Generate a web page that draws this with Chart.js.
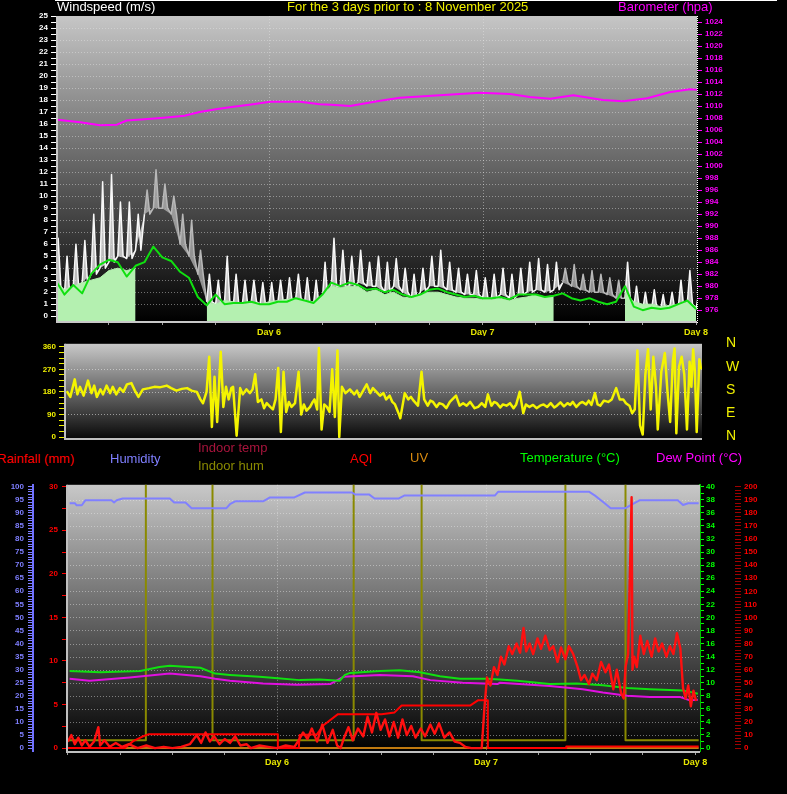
<!DOCTYPE html>
<html lang="en">
<head>
<meta charset="utf-8">
<title>Weather - last 3 days</title>
<script src="https://cdn.jsdelivr.net/npm/chart.js"></script>
<style>
  body { margin: 0; background: #000; }
  #page { position: relative; width: 787px; height: 794px; overflow: hidden; background: #000;
          font-family: "Liberation Sans", Arial, sans-serif; }
  canvas { position: absolute; left: 0; }
  .lbl { position: absolute; white-space: nowrap; font-size: 13px; line-height: 15px; }
  .dir { position: absolute; left: 726px; color: #f0f000; font-size: 14px; line-height: 14px; }
</style>
</head>
<body>
<div id="page">
  <canvas id="windChart" width="787" height="336" style="top:0"></canvas>
  <canvas id="dirChart" width="787" height="110" style="top:336px"></canvas>
  <canvas id="mainChart" width="787" height="318" style="top:476px"></canvas>

  <div style="position:absolute;left:55px;top:0;width:722px;height:1px;background:#fff"></div>
  <div class="lbl" style="left:57px;top:-1px;color:#fff">Windspeed (m/s)</div>
  <div class="lbl" style="left:287px;top:-1px;color:#f0f000">For the 3 days prior to : 8 November 2025</div>
  <div class="lbl" style="left:618px;top:-1px;color:#ff00ff">Barometer (hpa)</div>

  <div class="dir" style="top:335px">N</div>
  <div class="dir" style="top:359px">W</div>
  <div class="dir" style="top:382px">S</div>
  <div class="dir" style="top:405px">E</div>
  <div class="dir" style="top:428px">N</div>

  <div class="lbl" style="left:-3px;top:451px;color:#ff0000">Rainfall (mm)</div>
  <div class="lbl" style="left:110px;top:451px;color:#7f7fff">Humidity</div>
  <div class="lbl" style="left:198px;top:440px;color:#a8143c">Indoor temp</div>
  <div class="lbl" style="left:198px;top:458px;color:#8a8a00">Indoor hum</div>
  <div class="lbl" style="left:350px;top:451px;color:#ff0000">AQI</div>
  <div class="lbl" style="left:410px;top:450px;color:#d88a10">UV</div>
  <div class="lbl" style="left:520px;top:450px;color:#00ff00">Temperature (°C)</div>
  <div class="lbl" style="left:656px;top:450px;color:#ff00ff">Dew Point (°C)</div>
</div>

<script>
// ---------- data: hours after midnight at the start of Day 5 ----------
const dayHours = [24, 48, 72];
const dayLabels = ['Day 6', 'Day 7', 'Day 8'];

// wind, one reading per hour (gust peak / trough, speed, average)
const windHours = Array.from({ length: 73 }, (_, i) => i);
const gustHigh = [
  6.5, 5.0, 6.0, 6.3, 8.5, 11.2, 11.8, 9.5, 9.5, 8.5,
  10.5, 12.2, 11.0, 10.0, 8.5, 8.0, 5.5, 3.5, 3.0, 5.0,
  3.5, 3.0, 3.0, 2.8, 2.8, 3.0, 3.2, 3.5, 3.2, 3.0,
  4.5, 6.5, 5.5, 5.0, 5.5, 4.5, 5.0, 4.5, 4.8, 4.0,
  3.5, 4.0, 5.0, 5.5, 4.5, 4.0, 3.5, 3.8, 3.2, 3.5,
  4.0, 3.5, 4.0, 4.5, 4.8, 4.3, 4.5, 4.0, 4.3, 3.5,
  3.8, 3.5, 3.2, 3.0, 4.5, 2.5, 2.0, 2.2, 1.8, 2.0,
  3.0, 3.8, 2.0];
const gustLow = [
  2.5, 1.8, 2.5, 2.8, 3.5, 4.0, 4.5, 5.0, 4.8, 5.5,
  8.5, 9.0, 9.0, 8.5, 6.0, 5.0, 3.5, 1.2, 1.0, 1.2,
  1.0, 1.0, 1.2, 1.0, 1.0, 1.2, 1.2, 1.5, 1.2, 1.0,
  1.5, 2.5, 2.5, 2.5, 2.8, 2.5, 2.5, 2.0, 2.5, 2.0,
  1.5, 2.0, 2.5, 2.5, 2.2, 2.0, 1.8, 1.8, 1.5, 1.5,
  1.8, 1.5, 1.8, 2.0, 2.2, 2.0, 2.2, 2.8, 2.5, 2.2,
  2.0, 2.0, 1.8, 1.5, 1.5, 0.8, 0.5, 0.6, 0.5, 0.6,
  0.8, 1.0, 0.6];
const windSpeed = [
  3.0, 2.2, 2.5, 2.8, 3.0, 3.2, 3.8, 4.0, 3.8, 4.0,
  null, null, null, null, null, null, null, 1.2, 1.0, 1.3,
  1.2, 1.0, 1.2, 1.0, 1.2, 1.3, 1.4, 1.5, 1.3, 1.2,
  1.8, 2.5, 2.4, 2.5, 2.5, 2.0, 2.2, 1.8, 2.0, 1.6,
  1.5, 1.8, 2.0, 2.0, 1.8, 1.6, 1.5, 1.5, 1.4, 1.4,
  1.5, 1.3, 1.5, 1.6, 1.8, 1.6, 1.7, null, null, null,
  null, null, null, null, 2.0, 1.2, 1.0, 1.0, 0.8, 0.9,
  1.0, 1.2, 0.8];
const windAvg = [
  3.0, 1.8, 2.6, 1.9, 3.5, 4.3, 4.7, 4.5, 3.3, 4.2,
  4.5, 5.8, 4.9, 4.6, 3.7, 3.2, 1.6, 0.9, 1.8, 1.0,
  1.1, 1.1, 1.2, 1.0, 1.0, 1.2, 1.2, 1.5, 1.3, 1.1,
  1.8, 2.8, 2.5, 2.8, 2.6, 2.2, 2.3, 2.0, 2.2, 1.8,
  1.6, 1.8, 2.2, 2.3, 2.0, 1.8, 1.6, 1.7, 1.5, 1.5,
  1.6, 1.4, 1.8, 1.8, 1.8, 1.6, 1.7, 1.9, 1.5, 1.3,
  1.5, 1.2, 1.0, 1.2, 2.5, 0.8, 0.5, 0.7, 0.6, 0.7,
  1.0, 1.3, 0.6];

const baroHours = [0.2, 2.8, 5.0, 6.9, 8.0, 10.0, 12.5, 14.5, 16.2, 18.2,
  20.0, 22.2, 24.1, 27.5, 29.7, 31.0, 33.1, 36.5, 38.7, 43.2,
  47.7, 51.1, 53.3, 55.6, 58.2, 61.5, 63.8, 66.5, 69.0, 71.3, 72.1];
const baroVals = [1007.7, 1007.3, 1006.8, 1006.9, 1007.6, 1007.8, 1008.1, 1008.4, 1009.0, 1009.5,
  1009.9, 1010.3, 1010.7, 1010.7, 1010.3, 1010.2, 1010.0, 1010.9, 1011.4, 1011.8,
  1012.2, 1012.0, 1011.5, 1011.2, 1011.8, 1011.0, 1010.8, 1011.3, 1012.3, 1012.8, 1012.7];

// wind direction
const dirHours = [
  0.2, 0.6, 1.1, 1.4, 1.7, 2.1, 2.6, 3.0, 3.3, 3.6,
  4.0, 4.3, 4.7, 5.1, 5.4, 5.8, 6.2, 6.6, 7.0, 7.5,
  7.9, 8.3, 8.8, 9.5, 10.1, 10.7, 11.5, 12.0, 12.6, 13.2,
  13.8, 14.3, 14.9, 15.3, 15.6, 16.0, 16.3, 16.6, 16.9, 17.2,
  17.6, 17.9, 18.2, 18.5, 18.8, 19.0, 19.4, 19.8, 20.1, 20.5,
  20.9, 21.2, 21.5, 21.8, 22.2, 22.5, 22.8, 23.2, 23.5, 23.8,
  24.1, 24.4, 24.7, 25.0, 25.3, 25.6, 26.0, 26.4, 26.7, 27.0,
  27.3, 27.7, 28.0, 28.2, 28.5, 28.7, 29.0, 29.3, 29.6, 29.9,
  30.2, 30.5, 30.8, 31.0, 31.3, 31.7, 32.2, 32.7, 33.0, 33.3,
  33.7, 34.1, 34.5, 34.8, 35.2, 35.6, 36.0, 36.3, 36.7, 37.0,
  37.3, 37.7, 37.9, 38.4, 38.8, 39.1, 39.4, 39.9, 40.3, 40.6,
  41.0, 41.3, 41.6, 42.0, 42.3, 42.7, 43.1, 43.5, 44.2, 44.6,
  45.0, 45.4, 45.8, 46.3, 46.7, 47.1, 47.5, 47.8, 48.2, 48.5,
  48.8, 49.2, 49.5, 49.9, 50.3, 50.7, 51.0, 51.4, 51.8, 52.1,
  52.5, 52.9, 53.3, 53.7, 54.1, 54.5, 54.9, 55.3, 55.6, 56.0,
  56.4, 56.8, 57.1, 57.4, 57.8, 58.2, 58.5, 58.9, 59.2, 59.5,
  59.9, 60.2, 60.5, 60.9, 61.4, 61.8, 62.3, 62.7, 63.1, 63.4,
  63.8, 64.1, 64.4, 64.7, 65.0, 65.3, 65.6, 65.9, 66.2, 66.5,
  66.8, 67.0, 67.4, 67.8, 68.1, 68.4, 68.7, 68.9, 69.1, 69.4,
  69.7, 70.0, 70.3, 70.6, 70.8, 71.0, 71.2, 71.4, 71.7, 71.9];
const dirDeg = [
  183, 160, 230, 170, 200, 165, 225, 175, 205, 160,
  190, 170, 205, 175, 200, 170, 195, 180, 210, 215,
  185, 160, 190, 195, 200, 198, 205, 195, 185, 192,
  195, 185, 180, 150, 135, 180, 320, 40, 240, 60,
  340, 120, 200, 150, 195, 200, 5, 195, 170, 190,
  175, 190, 250, 140, 150, 115, 135, 120, 110, 150,
  275, 20, 260, 100, 140, 120, 135, 260, 90, 130,
  105, 120, 140, 150, 110, 355, 30, 130, 120, 100,
  270, 80, 345, 0, 200, 175, 190, 170, 185, 160,
  185, 210, 175, 195, 180, 165, 175, 150, 165, 140,
  130, 95, 75, 175, 150, 160, 145, 125, 260, 150,
  125, 145, 140, 120, 135, 130, 115, 140, 165, 125,
  135, 125, 140, 115, 120, 135, 120, 170, 125, 140,
  135, 118, 130, 125, 135, 115, 130, 180, 95, 130,
  120, 128, 115, 125, 130, 120, 135, 118, 125, 138,
  122, 135, 128, 140, 120, 135, 140, 130, 145, 128,
  175, 130, 125, 145, 140, 150, 195, 150, 150, 135,
  125, 95, 110, 345, 45, 10, 250, 350, 110, 320,
  200, 30, 260, 335, 180, 60, 300, 353, 15, 280,
  320, 250, 30, 300, 200, 350, 260, 20, 310, 270];

// lower panel
const humHours = [0.2, 0.8, 1.0, 1.6, 2.0, 5.0, 5.3, 5.6, 6.3, 11.7,
  12.2, 13.5, 14.2, 18.2, 18.6, 19.2, 22.4, 23.2, 26.0, 27.2,
  32.6, 33.0, 34.6, 35.2, 38.0, 38.6, 49.0, 49.4, 59.8, 60.5,
  61.5, 62.3, 64.0, 64.6, 65.6, 70.0, 70.6, 71.2, 72.4];
const humVals = [93.7, 93.7, 92.9, 92.9, 94.8, 94.8, 94.0, 94.8, 95.5, 95.5,
  94.0, 94.0, 91.8, 91.8, 93.3, 94.4, 94.4, 95.9, 95.9, 97.8,
  97.8, 97.0, 97.0, 95.5, 95.5, 96.6, 96.6, 98.1, 98.1, 96.6,
  94.0, 91.8, 91.8, 93.0, 94.8, 94.8, 93.0, 93.7, 93.7];

const tempHours = [0.2, 3.7, 8.3, 10.5, 11.7, 15.2, 16.9, 18.6, 22.0, 24.1,
  26.6, 28.9, 31.2, 31.8, 32.4, 35.8, 38.1, 40.4, 42.7, 45.0,
  48.1, 49.6, 51.6, 55.3, 58.4, 61.4, 64.2, 66.8, 70.6, 71.4, 72.3];
const tempVals = [11.8, 11.6, 11.8, 12.4, 12.6, 12.3, 11.4, 11.2, 10.9, 10.7,
  10.4, 10.5, 10.3, 11.2, 11.5, 11.8, 11.9, 11.6, 11.0, 10.6,
  10.6, 10.5, 10.3, 9.8, 9.9, 9.6, 9.2, 9.0, 8.8, 8.6, 8.3];

const dewHours = [0.2, 2.5, 7.1, 11.7, 15.2, 16.9, 18.6, 22.4, 26.3, 30.1,
  31.6, 35.8, 39.6, 41.6, 45.3, 49.3, 49.6, 55.3, 59.1, 61.4,
  64.2, 66.8, 70.3, 71.4, 72.3];
const dewVals = [10.6, 10.3, 10.8, 11.4, 11.0, 10.6, 10.3, 9.9, 9.7, 9.8,
  10.9, 11.2, 11.0, 10.4, 10.0, 9.8, 10.0, 9.5, 9.0, 8.5,
  8.0, 7.8, 7.8, 7.3, 7.4];

const rainHours = [0, 6.5, 7.5, 8.5, 9.3, 24.1, 24.1, 26.5, 26.6, 28.6,
  29.3, 31.0, 36.0, 37.5, 38.3, 46.2, 47.1, 48.2, 48.2, 57.2, 57.2, 72.4];
const rainVals = [0, 0, 0.8, 1.3, 1.6, 1.6, 0, 0, 1.5, 1.6,
  2.6, 3.9, 3.9, 4.1, 4.9, 4.9, 5.5, 5.5, 0, 0, 0.2, 0.2];

const inHumHours = [0.1, 8.95, 8.95, 16.6, 16.6, 32.8, 32.8, 40.6, 40.6, 57.1, 57.1, 64.0, 64.0, 72.4];
const inHumVals = [3, 3, 150, 150, 3, 3, 150, 150, 3, 3, 150, 150, 3, 3];

const uvHours = [0, 72.4];
const uvVals = [0, 0];

const aqiHours = [
  0.0, 0.4, 0.8, 1.2, 1.6, 2.0, 2.5, 3.0, 3.5, 3.7,
  4.2, 4.8, 5.5, 6.2, 7.0, 8.0, 9.0, 10.0, 11.0, 12.0,
  13.0, 14.0, 14.8, 15.3, 15.8, 16.3, 16.8, 17.4, 18.0, 18.6,
  19.2, 19.8, 20.5, 21.0, 22.0, 23.0, 24.0, 25.0, 26.0, 26.5,
  27.0, 27.5, 28.0, 28.6, 29.2, 29.8, 30.4, 30.9, 31.3, 31.7,
  32.2, 32.7, 33.3, 33.9, 34.4, 34.9, 35.4, 35.9, 36.4, 36.9,
  37.4, 37.9, 38.4, 38.9, 39.4, 39.9, 40.5, 41.0, 41.6, 42.1,
  42.6, 43.2, 43.8, 44.4, 45.0, 45.6, 46.3, 47.0, 47.5, 47.8,
  48.1, 48.5, 48.9, 49.3, 49.7, 50.1, 50.6, 51.0, 51.5, 51.9,
  52.3, 52.6, 53.0, 53.4, 53.9, 54.3, 54.8, 55.3, 55.7, 56.2,
  56.6, 57.1, 57.5, 58.0, 58.5, 58.9, 59.3, 59.8, 60.2, 60.7,
  61.2, 61.7, 62.1, 62.6, 63.0, 63.5, 63.8, 64.0, 64.3, 64.7,
  64.8, 65.0, 65.3, 65.7, 66.1, 66.5, 67.0, 67.4, 67.8, 68.2,
  68.7, 69.1, 69.5, 69.9, 70.3, 70.6, 70.9, 71.2, 71.5, 71.8,
  72.1];
const aqiVals = [
  5, 10, 3, 8, 2, 6, 1, 5, 16, 2,
  6, 1, 4, 1, 3, 0, 2, 0, 1, 0,
  1, 3, 10, 4, 12, 5, 9, 3, 7, 4,
  9, 2, 3, 0, 2, 1, 0, 2, 1, 6,
  12, 7, 15, 5, 18, 4, 14, 2, 0, 8,
  16, 6, 15, 9, 24, 12, 27, 14, 22, 9,
  20, 8, 22, 10, 17, 8, 15, 9, 18, 11,
  19, 8, 12, 5, 4, 1, 0, 0, 0, 30,
  54, 48, 62, 56, 70, 64, 78, 72, 80, 73,
  92, 74, 80, 72, 84, 76, 86, 75, 78, 66,
  77, 68, 78, 72, 62, 52, 56, 49, 57, 52,
  66, 58, 64, 45, 60, 42, 38, 62, 72, 192,
  60, 70, 62, 86, 72, 82, 70, 84, 74, 80,
  70, 78, 72, 88, 76, 46, 38, 48, 32, 44,
  36];

// ---------- helpers ----------
const pts = (xs, ys) => xs.map((x, i) => ({ x, y: ys[i] }));
// each hourly gust reading drawn as a narrow spike: trough, peak, trough
const gustSpikes = windHours.flatMap((h, i) => [
  { x: h, y: gustLow[i] }, { x: h + 0.3, y: gustHigh[i] }, { x: h + 0.6, y: gustLow[i] }]);
const noSpeed = c => windSpeed[Math.floor(c.p0DataIndex / 3)] === null;

const every = (from, to, step) => {
  const t = [];
  for (let i = 0; from + i * step <= to + 1e-9; i++) t.push({ value: from + i * step });
  return t;
};
const multipleOf = (v, n) => Math.abs(v / n - Math.round(v / n)) < 1e-6;
const tickFont = { family: 'Liberation Sans', size: 8, weight: 'bold' };

// plot background: grey-to-black shading, dotted grid, light frame
const panelBg = {
  id: 'panelBg',
  beforeDatasetsDraw(chart, args, o) {
    const { ctx, chartArea: a, scales } = chart;
    ctx.save();
    const g = ctx.createLinearGradient(0, a.top, 0, a.bottom);
    g.addColorStop(0, o.top);
    g.addColorStop(1, o.bottom);
    ctx.fillStyle = g;
    ctx.fillRect(a.left, a.top, a.right - a.left, a.bottom - a.top);
    ctx.lineWidth = 1;
    ctx.setLineDash([1, 2]);
    ctx.strokeStyle = o.grid;
    const ys = scales[o.yAxis];
    o.rows.forEach(v => {
      const y = Math.round(ys.getPixelForValue(v)) + 0.5;
      ctx.beginPath(); ctx.moveTo(a.left, y); ctx.lineTo(a.right, y); ctx.stroke();
    });
    o.cols.forEach(v => {
      const x = Math.round(scales.x.getPixelForValue(v)) + 0.5;
      ctx.beginPath(); ctx.moveTo(x, a.top); ctx.lineTo(x, a.bottom); ctx.stroke();
    });
    ctx.restore();
  },
  afterDatasetsDraw(chart, args, o) {
    const { ctx, chartArea: a } = chart;
    ctx.save();
    ctx.fillStyle = o.frame;
    ctx.fillRect(a.left - 1, a.top, 2, a.bottom - a.top + 2);
    ctx.fillRect(a.left - 1, a.bottom, a.right - a.left + 1, 2);
    if (o.rightDots) {
      ctx.strokeStyle = '#ffffff';
      ctx.setLineDash([1, 1]);
      ctx.beginPath(); ctx.moveTo(a.right + 0.5, a.top); ctx.lineTo(a.right + 0.5, a.bottom + 2); ctx.stroke();
    }
    ctx.restore();
  }
};

function timeAxis(min, max, height, display) {
  return {
    type: 'linear', position: 'bottom', min, max, display,
    afterBuildTicks: s => { s.ticks = every(0, 72, 6).filter(t => t.value >= min && t.value <= max); },
    afterFit: s => { s.height = height; },
    grid: { drawOnChartArea: false, color: '#a0a0a0', tickLength: 4 },
    border: { display: false },
    ticks: {
      autoSkip: false, maxRotation: 0, padding: 2, color: '#e6e600',
      font: { family: 'Liberation Sans', size: 9, weight: 'bold' },
      callback: v => { const i = dayHours.indexOf(v); return i < 0 ? '' : dayLabels[i]; }
    }
  };
}

function valueAxis(o) {
  return {
    type: 'linear', position: o.pos, weight: o.weight || 0, min: o.min, max: o.max,
    afterBuildTicks: s => { s.ticks = every(o.from, o.to, o.step); },
    afterFit: s => { s.width = o.width; },
    grid: { drawOnChartArea: false, color: o.tickColor || o.color, tickLength: o.tickLength },
    border: o.border ? { display: true, color: o.border, width: 2 } : { display: false },
    ticks: {
      autoSkip: false, padding: o.pad, color: o.color, font: tickFont,
      callback: v => (multipleOf(v, o.label) ? v : '')
    }
  };
}

const common = {
  responsive: false, animation: false,
  elements: { point: { radius: 0, hitRadius: 0 }, line: { tension: 0, borderJoinStyle: 'round' } },
  events: []
};

// ---------- wind speed + barometer ----------
new Chart(document.getElementById('windChart'), {
  type: 'line',
  data: {
    datasets: [
      { label: 'Barometer', data: pts(baroHours, baroVals), yAxisID: 'baro',
        borderColor: '#ff00ff', borderWidth: 2 },
      { label: 'Average speed', data: pts(windHours, windAvg), yAxisID: 'ws',
        borderColor: '#10e010', borderWidth: 2 },
      { label: 'Wind speed', data: pts(windHours, windSpeed), yAxisID: 'ws',
        borderColor: '#b4f0b0', backgroundColor: '#b4f0b0', borderWidth: 1, fill: 'start' },
      { label: 'Gust', data: gustSpikes, yAxisID: 'ws',
        borderColor: '#f8f8f8', backgroundColor: 'rgba(240,240,240,0.75)', borderWidth: 1.5, fill: '+1',
        segment: {
          borderColor: c => (noSpeed(c) ? '#b8b8b8' : undefined),
          backgroundColor: c => (noSpeed(c) ? 'rgba(175,175,175,0.8)' : undefined)
        } },
      { label: 'Gust low', data: pts(windHours, gustLow), yAxisID: 'ws',
        borderColor: 'rgba(0,0,0,0)', borderWidth: 0, fill: false }
    ]
  },
  options: {
    ...common,
    layout: { padding: { top: 16, left: 0, right: 0, bottom: 0 } },
    plugins: {
      legend: { display: false }, tooltip: { enabled: false },
      panelBg: { top: '#c6c6c6', bottom: '#000000', grid: 'rgba(230,230,230,0.45)', frame: '#c8c8c8',
                 yAxis: 'ws', rows: every(1, 24, 1).map(t => t.value), cols: [24, 48], rightDots: true }
    },
    scales: {
      x: timeAxis(0.17, 72.1, 15, true),
      ws: valueAxis({ pos: 'left', min: -0.4, max: 25, from: 0, to: 25, step: 0.5, label: 1,
                      color: '#ffffff', width: 57, tickLength: 6, pad: 3 }),
      baro: valueAxis({ pos: 'right', min: 974.2, max: 1025, from: 976, to: 1024, step: 2, label: 2,
                        color: '#ff00ff', width: 90, tickLength: 5, pad: 3 })
    }
  },
  plugins: [panelBg]
});

// ---------- wind direction ----------
new Chart(document.getElementById('dirChart'), {
  type: 'line',
  data: {
    datasets: [
      { label: 'Direction', data: pts(dirHours, dirDeg), yAxisID: 'dir',
        borderColor: '#f4f400', borderWidth: 2.5 }
    ]
  },
  options: {
    ...common,
    layout: { padding: { top: 6, left: 0, right: 85, bottom: 8 } },
    plugins: {
      legend: { display: false }, tooltip: { enabled: false },
      panelBg: { top: '#c8c8c8', bottom: '#0a0a0a', grid: 'rgba(235,235,235,0.55)', frame: '#c0c0c0',
                 yAxis: 'dir', rows: [90, 180, 270], cols: [] }
    },
    scales: {
      x: { type: 'linear', min: 0, max: 72, display: false },
      dir: valueAxis({ pos: 'left', min: -3.9, max: 371.7, from: 0, to: 360, step: 22.5, label: 90,
                       color: '#f0f000', width: 65, tickLength: 6, pad: 3 })
    }
  },
  plugins: [panelBg]
});

// ---------- rain / humidity / AQI / temperature ----------
new Chart(document.getElementById('mainChart'), {
  type: 'line',
  data: {
    datasets: [
      { label: 'AQI', data: pts(aqiHours, aqiVals), yAxisID: 'aqi', borderColor: '#ff1010', borderWidth: 2.4 },
      { label: 'Rainfall', data: pts(rainHours, rainVals), yAxisID: 'rain', borderColor: '#ff0000', borderWidth: 2 },
      { label: 'Temperature', data: pts(tempHours, tempVals), yAxisID: 'temp', borderColor: '#10e010', borderWidth: 2 },
      { label: 'Dew Point', data: pts(dewHours, dewVals), yAxisID: 'temp', borderColor: '#e010e0', borderWidth: 2 },
      { label: 'Humidity', data: pts(humHours, humVals), yAxisID: 'hum', borderColor: '#8080ff', borderWidth: 2 },
      { label: 'Indoor hum', data: pts(inHumHours, inHumVals), yAxisID: 'hum', borderColor: '#8a8a00', borderWidth: 2 },
      { label: 'UV', data: pts(uvHours, uvVals), yAxisID: 'temp', borderColor: '#c07a10', borderWidth: 2 }
    ]
  },
  options: {
    ...common,
    layout: { padding: { top: 1, left: 0, right: 0, bottom: 0 } },
    plugins: {
      legend: { display: false }, tooltip: { enabled: false },
      panelBg: { top: '#c8c8c8', bottom: '#000000', grid: 'rgba(235,235,235,0.45)', frame: '#c0c0c0',
                 yAxis: 'temp', rows: every(2, 38, 2).map(t => t.value), cols: [24, 48] }
    },
    scales: {
      x: timeAxis(-0.1, 72.55, 43, true),
      rain: valueAxis({ pos: 'left', weight: 0, min: -0.33, max: 30.22, from: 0, to: 30, step: 2.5, label: 5,
                        color: '#ff0000', width: 34, tickLength: 5, pad: 4 }),
      hum: valueAxis({ pos: 'left', weight: 1, min: -1.1, max: 100.74, from: 0, to: 100, step: 1, label: 5,
                       color: '#7f7fff', border: '#7070ff', width: 33, tickLength: 5, pad: 4 }),
      temp: valueAxis({ pos: 'right', weight: 0, min: -0.45, max: 40.3, from: 0, to: 40, step: 1, label: 2,
                        color: '#00ff00', border: '#00c000', width: 35, tickLength: 4, pad: 2 }),
      aqi: valueAxis({ pos: 'right', weight: 1, min: -2.2, max: 201.5, from: 0, to: 200, step: 2.5, label: 10,
                       color: '#ff0000', tickColor: '#a00000', width: 52, tickLength: 6, pad: 3 })
    }
  },
  plugins: [panelBg]
});
</script>
</body>
</html>
